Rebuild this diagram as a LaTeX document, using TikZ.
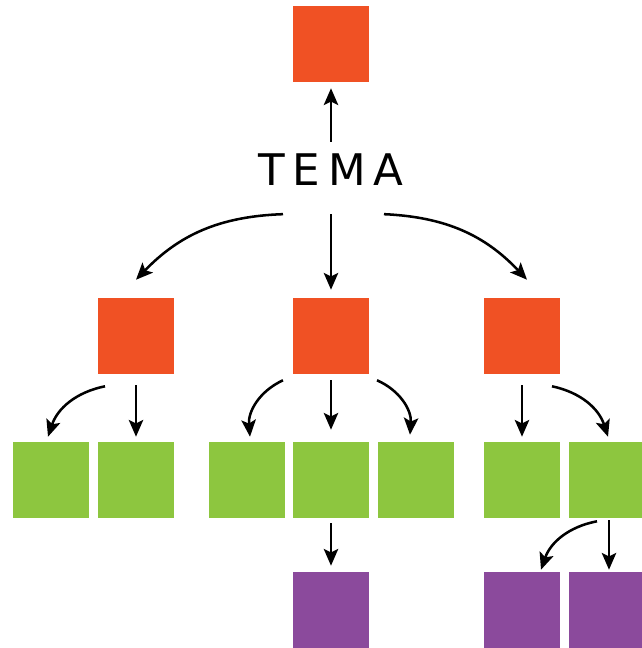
\documentclass[tikz,border=0pt]{standalone}
\usepackage{fontspec}
\usepackage{tikz}
\usetikzlibrary{
  positioning,
  arrows.meta
}
\newfontfamily\temafont[LetterSpace=18]{DejaVu Sans}
\definecolor{temaorange}{HTML}{F05124}
\definecolor{temagreen}{HTML}{8DC63F}
\definecolor{temapurple}{HTML}{8B4A9C}
\tikzset{
  >=Stealth,
  link/.style={-{Stealth[length=4.2mm,width=3.6mm,inset=0.9mm]},line width=1.8pt},
  sqbox/.style={rectangle,minimum size=1.9cm,inner sep=0pt},
  topic/.style={sqbox,fill=temaorange},
  subtopic/.style={sqbox,fill=temagreen},
  detail/.style={sqbox,fill=temapurple},
  title/.style={inner sep=0pt,font=\temafont\fontsize{31}{32}\selectfont}
}

\begin{document}
\begin{tikzpicture}[on grid]
    \useasboundingbox (-8.275,1.1) rectangle (7.75,-15.1);
    \node[topic] (top) at (0,0) {};
    \node[title,below=3.15cm of top] (tema) {TEMA};
    \node[topic,below=7.3cm of top] (mid) {};
    \node[topic,left=4.875cm of mid] (left) {};
    \node[topic,right=4.775cm of mid] (right) {};

    \node[subtopic,below=3.6cm of left] (gL2) {};
    \node[subtopic,left=2.125cm of gL2] (gL1) {};
    \node[subtopic,below=3.6cm of mid] (gC2) {};
    \node[subtopic,left=2.1cm of gC2] (gC1) {};
    \node[subtopic,right=2.125cm of gC2] (gC3) {};
    \node[subtopic,below=3.6cm of right] (gR1) {};
    \node[subtopic,right=2.125cm of gR1] (gR2) {};

    \node[detail,below=3.25cm of gC2] (pC) {};
    \node[detail,below=3.25cm of gR1] (pR1) {};
    \node[detail,below=3.25cm of gR2] (pR2) {};

    % from the title
    \draw[link,shorten <=3mm,shorten >=1.5mm] (tema.north) -- (top.south);
    \draw[link] ([xshift=-1.2cm,yshift=-7mm]tema.south) to[bend right=22] ([yshift=4.5mm]left.north);
    \draw[link,shorten <=7mm,shorten >=2mm] (tema.south) -- (mid.north);
    \draw[link] ([xshift=1.325cm,yshift=-7mm]tema.south) to[bend left=22] ([xshift=1.25mm,yshift=4.5mm]right.north);

    % second row
    \draw[link] ([xshift=-7.75mm,yshift=-3mm]left.south) to[bend right=30] ([xshift=-0.75mm,yshift=1.25mm]gL1.north);
    \draw[link,shorten <=2.75mm,shorten >=1.25mm] (left.south) -- (gL2.north);
    \draw[link] ([xshift=-12mm,yshift=-1.5mm]mid.south) to[bend right=35] ([xshift=0.75mm,yshift=1.25mm]gC1.north);
    \draw[link,shorten <=1.5mm,shorten >=3mm] (mid.south) -- (gC2.north);
    \draw[link] ([xshift=11.5mm,yshift=-1.5mm]mid.south) to[bend left=35] ([xshift=-1.5mm,yshift=1.75mm]gC3.north);
    \draw[link,shorten <=2.75mm,shorten >=1.25mm] (right.south) -- (gR1.north);
    \draw[link] ([xshift=7.5mm,yshift=-3mm]right.south) to[bend left=30] ([xshift=0.25mm,yshift=1.25mm]gR2.north);

    % third row
    \draw[link,shorten <=1.25mm,shorten >=1.5mm] (gC2.south) -- (pC.north);
    \draw[link] ([xshift=-2.5mm,yshift=-0.75mm]gR2.south) to[bend right=30] ([xshift=4.75mm,yshift=0.5mm]pR1.north);
    \draw[link,shorten <=0.5mm,shorten >=0.5mm] ([xshift=0.5mm]gR2.south) -- ([xshift=0.5mm]pR2.north);
\end{tikzpicture}
\end{document}
